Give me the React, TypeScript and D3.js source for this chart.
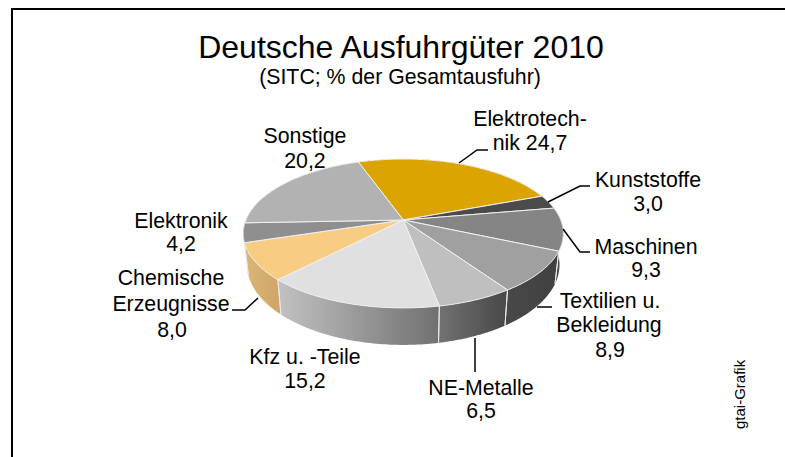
import React from "react";
import * as d3 from "d3";

const categories = ["Elektrotechnik", "Kunststoffe", "Maschinen", "Textilien u. Bekleidung", "NE-Metalle", "Kfz u. -Teile", "Chemische Erzeugnisse", "Elektronik", "Sonstige"];
const values = [24.7, 3.0, 9.3, 8.9, 6.5, 15.2, 8.0, 4.2, 20.2];
const topColors = ["#dca400", "#4b4b4b", "#858585", "#a0a0a0", "#bfbfbf", "#e0e0e0", "#f8cc82", "#8f8f8f", "#b2b2b2"];
const sideStart = ["#8a6a00", "#3a3a3a", "#4a4a4a", "#484848", "#727272", "#c2c2c2", "#dcb678", "#777777", "#888888"];
const sideEnd = ["#8a6a00", "#3a3a3a", "#444444", "#404040", "#474747", "#707070", "#cfa668", "#777777", "#888888"];

const labelLines: [string, number, number][] = [
  ["Elektrotech-", 530, 126], ["nik 24,7", 530, 150],
  ["Kunststoffe", 648, 187], ["3,0", 648, 211],
  ["Maschinen", 646, 254], ["9,3", 646, 277],
  ["Textilien u.", 610, 308], ["Bekleidung", 609, 332], ["8,9", 610, 357],
  ["NE-Metalle", 481, 395], ["6,5", 481, 418],
  ["Kfz u. -Teile", 305, 364], ["15,2", 305, 388],
  ["Chemische", 171, 285], ["Erzeugnisse", 171, 311], ["8,0", 172, 337],
  ["Elektronik", 181, 228], ["4,2", 181, 251],
  ["Sonstige", 305, 143], ["20,2", 305, 168],
];
const leaders: [number, number][][] = [
  [[459, 163], [477, 150], [488, 150]],
  [[548, 202], [580, 186], [590, 186]],
  [[563, 229], [580, 252], [590, 252]],
  [[537, 307], [552, 307]],
  [[475, 338], [475, 372]],
  [[258, 298], [245, 310], [232, 310]],
];

const W = 785, H = 457;
const apex = { x: 403.3, y: 220 };
const R = 157.4, S = 72, K = 0.181, DEPTH = 30.3, SHRINK = 0.976;
const START = (-19.5 * Math.PI) / 180;

const project = (a: number, r: number, lower: boolean): [number, number] => {
  const u = Math.sin(a) * r, v = -Math.cos(a) * r, w = 1 - K * v;
  const x = (R * u) / w, y = (S * v) / w;
  return lower ? [apex.x + x * SHRINK, apex.y + y + DEPTH / w] : [apex.x + x, apex.y + y];
};
const sample = (a0: number, a1: number) => d3.range(0, 61).map((i) => a0 + ((a1 - a0) * i) / 60);
const line = d3.line<[number, number]>();

export default function App() {
  const arcs = d3.pie<number>().sort(null).startAngle(START).endAngle(START + 2 * Math.PI)(values);
  const sideOrder = arcs
    .map((d, i) => ({ d, i, depth: -Math.cos((d.startAngle + d.endAngle) / 2) }))
    .sort((a, b) => a.depth - b.depth);
  const xs = (d: { startAngle: number; endAngle: number }) =>
    sample(d.startAngle, d.endAngle).map((a) => project(a, 1, false)[0]);
  return (
    <svg width={W} height={H} style={{ position: "absolute", left: 0, top: 0, background: "#fff" }} fontFamily="'Liberation Sans', Arial, sans-serif">
      <defs>
        {arcs.map((d, i) => {
          const ext = d3.extent(xs(d)) as [number, number];
          return (
            <linearGradient key={i} id={`side${i}`} gradientUnits="userSpaceOnUse" x1={ext[0]} x2={ext[1]} y1={0} y2={0}>
              <stop offset="0" stopColor={sideStart[i]} />
              <stop offset="1" stopColor={sideEnd[i]} />
            </linearGradient>
          );
        })}
      </defs>
      <path d={`M12 ${H}V9H${W}`} fill="none" stroke="#000" strokeWidth={2} />
      <text x={401} y={58} textAnchor="middle" fontSize={32} fill="#000">Deutsche Ausfuhrgüter 2010</text>
      <text x={400} y={84} textAnchor="middle" fontSize={21.3} fill="#000">(SITC; % der Gesamtausfuhr)</text>

      {sideOrder.map(({ d, i }) => {
        const ang = sample(d.startAngle, d.endAngle);
        const pts = [...ang.map((a) => project(a, 1, false)), ...ang.slice().reverse().map((a) => project(a, 1, true))];
        return <path key={categories[i]} d={line(pts) + "Z"} fill={`url(#side${i})`} />;
      })}
      {arcs.map((d, i) => {
        const front = (a: number) => -Math.cos(a) > -0.1;
        return [d.startAngle, d.endAngle].filter(front).map((a, j) => (
          <path key={`${i}-${j}`} d={line([project(a, 1, false), project(a, 1, true)]) as string} stroke="#e8e8e8" strokeWidth={1} fill="none" />
        ));
      })}
      {arcs.map((d, i) => {
        const pts = sample(d.startAngle, d.endAngle).map((a) => project(a, 1, false));
        return <path key={i} d={line([[apex.x, apex.y], ...pts]) + "Z"} fill={topColors[i]} stroke="#f0f0f0" strokeWidth={1} strokeLinejoin="round" />;
      })}

      {leaders.map((l, i) => (
        <path key={i} d={line(l) as string} fill="none" stroke="#000" strokeWidth={1.5} />
      ))}
      {labelLines.map(([t, x, y], i) => (
        <text key={i} x={x} y={y} textAnchor="middle" fontSize={21.3} fill="#000">{t}</text>
      ))}
      <text transform="translate(745,429) rotate(-90)" fontSize={15} fill="#000">gtai-Grafik</text>
    </svg>
  );
}
